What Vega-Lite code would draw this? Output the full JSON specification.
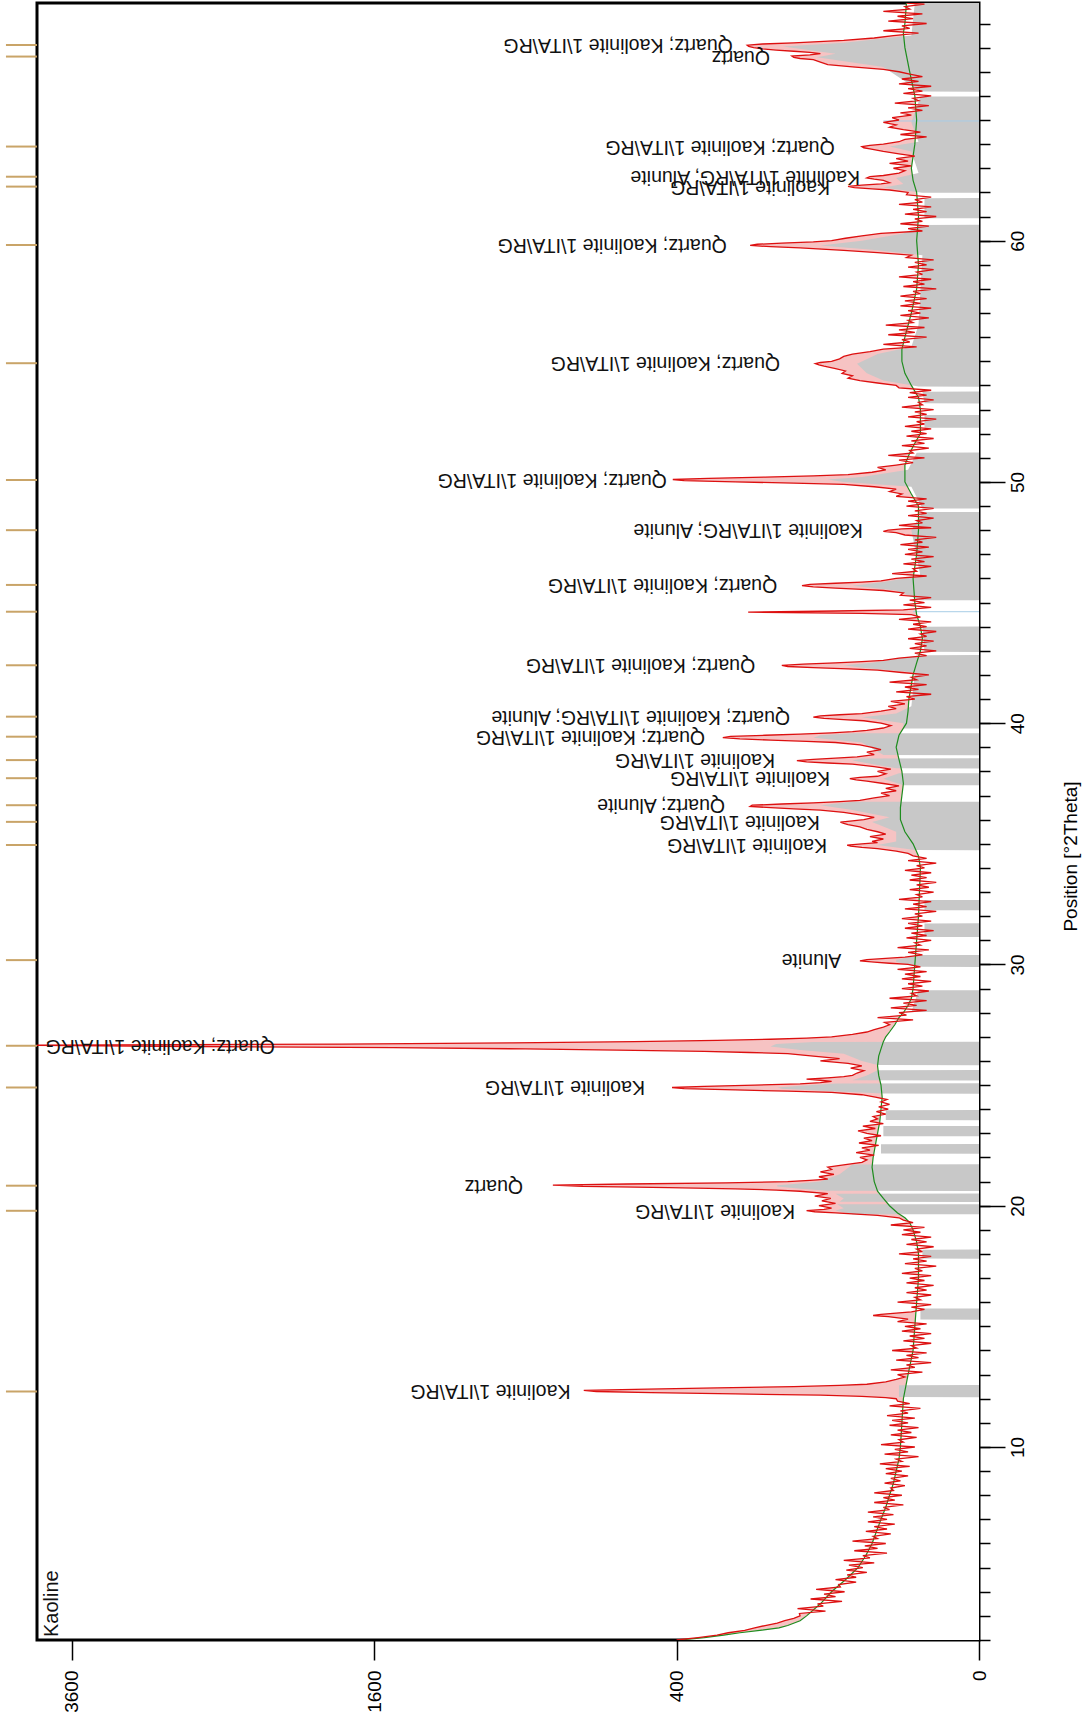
{
"$schema": "https://vega.github.io/schema/vega-lite/v6.json",
"width": 942, "height": 1637,
"autosize": {"type": "none"},
"padding": {"left": 37, "top": 3, "right": 108, "bottom": 84},
"background": "#ffffff",
"config": {"view": {"stroke": "#000000", "strokeWidth": 3}, "font": "Liberation Sans"},
"datasets": {
"p": [{"t":2,"c":400},{"t":2.1,"c":345},{"t":2.2,"c":300},{"t":2.3,"c":275},{"t":2.4,"c":240},{"t":2.5,"c":220},{"t":2.6,"c":200},{"t":2.7,"c":178},{"t":2.8,"c":165},{"t":2.9,"c":150},
{"t":3,"c":140},{"t":3.1,"c":141},{"t":3.2,"c":103},{"t":3.3,"c":144},{"t":3.4,"c":106},{"t":3.5,"c":114},{"t":3.6,"c":82},{"t":3.7,"c":124},{"t":3.8,"c":90},{"t":3.9,"c":105},
{"t":4,"c":79},{"t":4.1,"c":116},{"t":4.2,"c":84},{"t":4.3,"c":86},{"t":4.4,"c":66},{"t":4.5,"c":90},{"t":4.6,"c":66},{"t":4.7,"c":76},{"t":4.8,"c":55},{"t":4.9,"c":77},
{"t":5,"c":59},{"t":5.1,"c":74},{"t":5.2,"c":48},{"t":5.3,"c":80},{"t":5.4,"c":52},{"t":5.5,"c":59},{"t":5.6,"c":37},{"t":5.7,"c":68},{"t":5.8,"c":45},{"t":5.9,"c":57},
{"t":6,"c":38},{"t":6.1,"c":70},{"t":6.2,"c":45},{"t":6.3,"c":49},{"t":6.4,"c":34},{"t":6.5,"c":56},{"t":6.6,"c":37},{"t":6.7,"c":48},{"t":6.8,"c":31},{"t":6.9,"c":54},
{"t":7,"c":37},{"t":7.1,"c":49},{"t":7.2,"c":32},{"t":7.3,"c":54},{"t":7.4,"c":35},{"t":7.5,"c":40},{"t":7.6,"c":25},{"t":7.7,"c":48},{"t":7.8,"c":31},{"t":7.9,"c":40},
{"t":8,"c":26},{"t":8.1,"c":48},{"t":8.2,"c":32},{"t":8.3,"c":34},{"t":8.4,"c":24},{"t":8.5,"c":39},{"t":8.6,"c":27},{"t":8.7,"c":34},{"t":8.8,"c":22},{"t":8.9,"c":38},
{"t":9,"c":26},{"t":9.1,"c":38},{"t":9.2,"c":21},{"t":9.3,"c":43},{"t":9.4,"c":26},{"t":9.5,"c":30},{"t":9.6,"c":16},{"t":9.7,"c":39},{"t":9.8,"c":22},{"t":9.9,"c":31},
{"t":10,"c":18},{"t":10.1,"c":42},{"t":10.2,"c":25},{"t":10.3,"c":28},{"t":10.4,"c":17},{"t":10.5,"c":34},{"t":10.6,"c":20},{"t":10.7,"c":29},{"t":10.8,"c":16},{"t":10.9,"c":35},
{"t":11,"c":22},{"t":11.1,"c":33},{"t":11.2,"c":18},{"t":11.3,"c":37},{"t":11.4,"c":22},{"t":11.5,"c":27},{"t":11.6,"c":15},{"t":11.7,"c":35},{"t":11.8,"c":21},{"t":11.9,"c":29},
{"t":12,"c":30},{"t":12.05,"c":38},{"t":12.1,"c":60},{"t":12.15,"c":110},{"t":12.2,"c":260},{"t":12.25,"c":470},{"t":12.3,"c":640},{"t":12.35,"c":683},{"t":12.4,"c":480},{"t":12.45,"c":300},{"t":12.5,"c":150},{"t":12.55,"c":85},{"t":12.6,"c":55},{"t":12.7,"c":38},{"t":12.8,"c":30},{"t":12.9,"c":24},
{"t":13,"c":29},{"t":13.1,"c":14},{"t":13.2,"c":34},{"t":13.3,"c":18},{"t":13.4,"c":23},{"t":13.5,"c":10},{"t":13.6,"c":30},{"t":13.7,"c":16},{"t":13.8,"c":23},{"t":13.9,"c":12},
{"t":14,"c":33},{"t":14.1,"c":17},{"t":14.2,"c":20},{"t":14.3,"c":10},{"t":14.4,"c":25},{"t":14.5,"c":13},{"t":14.6,"c":21},{"t":14.7,"c":10},{"t":14.8,"c":26},{"t":14.9,"c":15},
{"t":15,"c":24},{"t":15.1,"c":12},{"t":15.2,"c":29},{"t":15.3,"c":22},{"t":15.4,"c":36},{"t":15.45,"c":49},{"t":15.5,"c":42},{"t":15.55,"c":30},{"t":15.6,"c":20},{"t":15.7,"c":13},{"t":15.8,"c":20},{"t":15.9,"c":10},
{"t":16,"c":29},{"t":16.1,"c":15},{"t":16.2,"c":18},{"t":16.3,"c":10},{"t":16.4,"c":23},{"t":16.5,"c":12},{"t":16.6,"c":18},{"t":16.7,"c":9},{"t":16.8,"c":23},{"t":16.9,"c":13},
{"t":17,"c":21},{"t":17.1,"c":10},{"t":17.2,"c":26},{"t":17.3,"c":14},{"t":17.4,"c":18},{"t":17.5,"c":8},{"t":17.6,"c":24},{"t":17.7,"c":12},{"t":17.8,"c":19},{"t":17.9,"c":10},
{"t":18,"c":28},{"t":18.1,"c":14},{"t":18.2,"c":17},{"t":18.3,"c":9},{"t":18.4,"c":23},{"t":18.5,"c":12},{"t":18.6,"c":20},{"t":18.7,"c":10},{"t":18.8,"c":26},{"t":18.9,"c":15},
{"t":19,"c":25},{"t":19.1,"c":13},{"t":19.2,"c":34},{"t":19.3,"c":19},{"t":19.4,"c":25},{"t":19.5,"c":28},{"t":19.6,"c":45},{"t":19.7,"c":90},{"t":19.75,"c":118},{"t":19.8,"c":130},{"t":19.85,"c":105},{"t":19.9,"c":95},
{"t":20,"c":112},{"t":20.1,"c":90},{"t":20.2,"c":108},{"t":20.3,"c":96},{"t":20.4,"c":118},{"t":20.5,"c":100},{"t":20.6,"c":140},{"t":20.65,"c":180},{"t":20.7,"c":260},{"t":20.75,"c":420},{"t":20.8,"c":686},{"t":20.85,"c":794},{"t":20.9,"c":540},{"t":20.95,"c":280},
{"t":21,"c":160},{"t":21.05,"c":125},{"t":21.1,"c":100},{"t":21.2,"c":112},{"t":21.3,"c":92},{"t":21.4,"c":110},{"t":21.5,"c":95},{"t":21.6,"c":100},{"t":21.7,"c":78},{"t":21.8,"c":60},{"t":21.9,"c":55},
{"t":22,"c":62},{"t":22.1,"c":48},{"t":22.2,"c":66},{"t":22.3,"c":52},{"t":22.4,"c":60},{"t":22.5,"c":44},{"t":22.6,"c":63},{"t":22.7,"c":50},{"t":22.8,"c":58},{"t":22.9,"c":42},
{"t":23,"c":55},{"t":23.1,"c":64},{"t":23.2,"c":47},{"t":23.3,"c":59},{"t":23.4,"c":40},{"t":23.5,"c":52},{"t":23.6,"c":45},{"t":23.7,"c":49},{"t":23.8,"c":38},{"t":23.9,"c":46},
{"t":24,"c":36},{"t":24.1,"c":44},{"t":24.2,"c":35},{"t":24.3,"c":42},{"t":24.4,"c":37},{"t":24.5,"c":47},{"t":24.6,"c":60},{"t":24.7,"c":95},{"t":24.75,"c":160},{"t":24.8,"c":260},{"t":24.85,"c":380},{"t":24.9,"c":412},{"t":24.95,"c":330},
{"t":25,"c":220},{"t":25.05,"c":140},{"t":25.1,"c":110},{"t":25.15,"c":95},{"t":25.2,"c":110},{"t":25.25,"c":130},{"t":25.3,"c":100},{"t":25.35,"c":80},{"t":25.4,"c":70},{"t":25.5,"c":65},{"t":25.6,"c":58},{"t":25.7,"c":72},{"t":25.8,"c":60},{"t":25.9,"c":75},
{"t":26,"c":110},{"t":26.1,"c":85},{"t":26.2,"c":120},{"t":26.3,"c":160},{"t":26.35,"c":230},{"t":26.4,"c":330},{"t":26.45,"c":573},{"t":26.5,"c":900},{"t":26.55,"c":1500},{"t":26.6,"c":2700},{"t":26.65,"c":3950},{"t":26.7,"c":1775},{"t":26.75,"c":950},{"t":26.8,"c":520},{"t":26.85,"c":300},{"t":26.9,"c":190},{"t":26.95,"c":130},
{"t":27,"c":95},{"t":27.1,"c":70},{"t":27.2,"c":55},{"t":27.3,"c":48},{"t":27.4,"c":40},{"t":27.5,"c":35},{"t":27.6,"c":39},{"t":27.7,"c":19},{"t":27.8,"c":45},{"t":27.9,"c":23},
{"t":28,"c":28},{"t":28.1,"c":12},{"t":28.2,"c":34},{"t":28.3,"c":17},{"t":28.4,"c":25},{"t":28.5,"c":12},{"t":28.6,"c":35},{"t":28.7,"c":17},{"t":28.8,"c":20},{"t":28.9,"c":11},
{"t":29,"c":26},{"t":29.1,"c":14},{"t":29.2,"c":22},{"t":29.3,"c":10},{"t":29.4,"c":26},{"t":29.5,"c":15},{"t":29.6,"c":24},{"t":29.7,"c":12},{"t":29.8,"c":29},{"t":29.9,"c":15},
{"t":30,"c":22},{"t":30.05,"c":35},{"t":30.1,"c":48},{"t":30.15,"c":62},{"t":30.2,"c":55},{"t":30.25,"c":38},{"t":30.3,"c":24},{"t":30.4,"c":14},{"t":30.5,"c":22},{"t":30.6,"c":11},{"t":30.7,"c":29},{"t":30.8,"c":15},{"t":30.9,"c":18},
{"t":31,"c":10},{"t":31.1,"c":23},{"t":31.2,"c":12},{"t":31.3,"c":20},{"t":31.4,"c":9},{"t":31.5,"c":24},{"t":31.6,"c":14},{"t":31.7,"c":22},{"t":31.8,"c":10},{"t":31.9,"c":26},
{"t":32,"c":14},{"t":32.1,"c":18},{"t":32.2,"c":8},{"t":32.3,"c":24},{"t":32.4,"c":12},{"t":32.5,"c":19},{"t":32.6,"c":10},{"t":32.7,"c":28},{"t":32.8,"c":14},{"t":32.9,"c":17},
{"t":33,"c":9},{"t":33.1,"c":21},{"t":33.2,"c":11},{"t":33.3,"c":17},{"t":33.4,"c":8},{"t":33.5,"c":21},{"t":33.6,"c":12},{"t":33.7,"c":20},{"t":33.8,"c":10},{"t":33.9,"c":24},
{"t":34,"c":13},{"t":34.1,"c":17},{"t":34.2,"c":8},{"t":34.3,"c":22},{"t":34.4,"c":12},{"t":34.5,"c":19},{"t":34.6,"c":22},{"t":34.7,"c":30},{"t":34.8,"c":45},{"t":34.85,"c":60},{"t":34.9,"c":72},{"t":34.95,"c":76},
{"t":35,"c":60},{"t":35.05,"c":45},{"t":35.1,"c":50},{"t":35.2,"c":40},{"t":35.3,"c":52},{"t":35.4,"c":38},{"t":35.5,"c":45},{"t":35.6,"c":55},{"t":35.7,"c":62},{"t":35.8,"c":75},{"t":35.85,"c":80},{"t":35.9,"c":84},{"t":35.95,"c":70},
{"t":36,"c":58},{"t":36.1,"c":48},{"t":36.2,"c":62},{"t":36.3,"c":80},{"t":36.4,"c":110},{"t":36.45,"c":150},{"t":36.5,"c":190},{"t":36.55,"c":229},{"t":36.6,"c":225},{"t":36.65,"c":170},{"t":36.7,"c":120},{"t":36.75,"c":85},{"t":36.8,"c":62},{"t":36.9,"c":48},
{"t":37,"c":35},{"t":37.1,"c":42},{"t":37.2,"c":30},{"t":37.3,"c":38},{"t":37.4,"c":28},{"t":37.5,"c":40},{"t":37.6,"c":55},{"t":37.65,"c":66},{"t":37.7,"c":73},{"t":37.75,"c":62},{"t":37.8,"c":45},{"t":37.9,"c":38},
{"t":38,"c":45},{"t":38.1,"c":34},{"t":38.2,"c":48},{"t":38.3,"c":70},{"t":38.35,"c":100},{"t":38.4,"c":130},{"t":38.45,"c":145},{"t":38.5,"c":120},{"t":38.55,"c":90},{"t":38.6,"c":65},{"t":38.7,"c":48},{"t":38.8,"c":55},{"t":38.9,"c":42},
{"t":39,"c":50},{"t":39.1,"c":62},{"t":39.2,"c":90},{"t":39.25,"c":130},{"t":39.3,"c":190},{"t":39.35,"c":250},{"t":39.4,"c":287},{"t":39.45,"c":270},{"t":39.5,"c":200},{"t":39.55,"c":140},{"t":39.6,"c":95},{"t":39.65,"c":70},{"t":39.7,"c":55},{"t":39.8,"c":40},{"t":39.9,"c":34},
{"t":40,"c":42},{"t":40.1,"c":58},{"t":40.15,"c":80},{"t":40.2,"c":105},{"t":40.25,"c":120},{"t":40.3,"c":110},{"t":40.35,"c":85},{"t":40.4,"c":60},{"t":40.5,"c":42},{"t":40.6,"c":30},{"t":40.7,"c":36},{"t":40.8,"c":24},{"t":40.9,"c":34},
{"t":41,"c":18},{"t":41.1,"c":23},{"t":41.2,"c":10},{"t":41.3,"c":30},{"t":41.4,"c":16},{"t":41.5,"c":24},{"t":41.6,"c":12},{"t":41.7,"c":35},{"t":41.8,"c":17},{"t":41.9,"c":20},
{"t":42,"c":11},{"t":42.1,"c":26},{"t":42.2,"c":45},{"t":42.25,"c":75},{"t":42.3,"c":120},{"t":42.35,"c":160},{"t":42.4,"c":170},{"t":42.45,"c":135},{"t":42.5,"c":90},{"t":42.55,"c":60},{"t":42.6,"c":40},{"t":42.7,"c":28},{"t":42.8,"c":12},{"t":42.9,"c":18},
{"t":43,"c":8},{"t":43.1,"c":21},{"t":43.2,"c":12},{"t":43.3,"c":18},{"t":43.4,"c":9},{"t":43.5,"c":22},{"t":43.6,"c":12},{"t":43.7,"c":15},{"t":43.8,"c":8},{"t":43.9,"c":22},
{"t":44,"c":12},{"t":44.1,"c":19},{"t":44.2,"c":10},{"t":44.3,"c":28},{"t":44.4,"c":15},{"t":44.5,"c":20},{"t":44.55,"c":60},{"t":44.6,"c":233},{"t":44.65,"c":90},{"t":44.7,"c":25},{"t":44.8,"c":10},{"t":44.9,"c":25},
{"t":45,"c":13},{"t":45.1,"c":21},{"t":45.2,"c":10},{"t":45.3,"c":27},{"t":45.4,"c":25},{"t":45.5,"c":40},{"t":45.55,"c":60},{"t":45.6,"c":90},{"t":45.65,"c":120},{"t":45.7,"c":137},{"t":45.75,"c":125},{"t":45.8,"c":90},{"t":45.85,"c":60},{"t":45.9,"c":42},
{"t":46,"c":30},{"t":46.1,"c":12},{"t":46.2,"c":33},{"t":46.3,"c":17},{"t":46.4,"c":19},{"t":46.5,"c":10},{"t":46.6,"c":25},{"t":46.7,"c":13},{"t":46.8,"c":20},{"t":46.9,"c":9},
{"t":47,"c":24},{"t":47.1,"c":14},{"t":47.2,"c":22},{"t":47.3,"c":11},{"t":47.4,"c":27},{"t":47.5,"c":14},{"t":47.6,"c":18},{"t":47.7,"c":8},{"t":47.8,"c":24},{"t":47.9,"c":30},{"t":47.95,"c":40},
{"t":48,"c":36},{"t":48.05,"c":26},{"t":48.1,"c":10},{"t":48.2,"c":28},{"t":48.3,"c":14},{"t":48.4,"c":17},{"t":48.5,"c":9},{"t":48.6,"c":22},{"t":48.7,"c":12},{"t":48.8,"c":18},{"t":48.9,"c":9},
{"t":49,"c":23},{"t":49.1,"c":13},{"t":49.2,"c":22},{"t":49.3,"c":12},{"t":49.4,"c":30},{"t":49.5,"c":26},{"t":49.6,"c":35},{"t":49.7,"c":30},{"t":49.8,"c":48},{"t":49.9,"c":80},{"t":49.95,"c":150},
{"t":50,"c":260},{"t":50.05,"c":380},{"t":50.1,"c":410},{"t":50.15,"c":320},{"t":50.2,"c":200},{"t":50.25,"c":120},{"t":50.3,"c":75},{"t":50.4,"c":50},{"t":50.5,"c":38},{"t":50.6,"c":45},{"t":50.7,"c":30},{"t":50.8,"c":19},{"t":50.9,"c":28},
{"t":51,"c":13},{"t":51.1,"c":36},{"t":51.2,"c":19},{"t":51.3,"c":21},{"t":51.4,"c":11},{"t":51.5,"c":26},{"t":51.6,"c":13},{"t":51.7,"c":20},{"t":51.8,"c":9},{"t":51.9,"c":23},
{"t":52,"c":12},{"t":52.1,"c":20},{"t":52.2,"c":10},{"t":52.3,"c":24},{"t":52.4,"c":13},{"t":52.5,"c":17},{"t":52.6,"c":8},{"t":52.7,"c":22},{"t":52.8,"c":12},{"t":52.9,"c":18},
{"t":53,"c":9},{"t":53.1,"c":26},{"t":53.2,"c":14},{"t":53.3,"c":16},{"t":53.4,"c":9},{"t":53.5,"c":22},{"t":53.6,"c":12},{"t":53.7,"c":21},{"t":53.8,"c":10},{"t":53.9,"c":28},
{"t":54,"c":30},{"t":54.1,"c":45},{"t":54.2,"c":62},{"t":54.3,"c":75},{"t":54.4,"c":70},{"t":54.5,"c":82},{"t":54.6,"c":78},{"t":54.7,"c":90},{"t":54.8,"c":105},{"t":54.85,"c":112},{"t":54.9,"c":117},{"t":54.95,"c":110},
{"t":55,"c":95},{"t":55.1,"c":85},{"t":55.2,"c":80},{"t":55.3,"c":70},{"t":55.4,"c":52},{"t":55.5,"c":40},{"t":55.6,"c":17},{"t":55.7,"c":40},{"t":55.8,"c":21},{"t":55.9,"c":26},
{"t":56,"c":12},{"t":56.1,"c":36},{"t":56.2,"c":18},{"t":56.3,"c":28},{"t":56.4,"c":13},{"t":56.5,"c":38},{"t":56.6,"c":19},{"t":56.7,"c":22},{"t":56.8,"c":11},{"t":56.9,"c":27},
{"t":57,"c":15},{"t":57.1,"c":22},{"t":57.2,"c":10},{"t":57.3,"c":27},{"t":57.4,"c":15},{"t":57.5,"c":24},{"t":57.6,"c":12},{"t":57.7,"c":27},{"t":57.8,"c":15},{"t":57.9,"c":19},
{"t":58,"c":8},{"t":58.1,"c":25},{"t":58.2,"c":13},{"t":58.3,"c":19},{"t":58.4,"c":10},{"t":58.5,"c":28},{"t":58.6,"c":14},{"t":58.7,"c":17},{"t":58.8,"c":9},{"t":58.9,"c":22},
{"t":59,"c":12},{"t":59.1,"c":18},{"t":59.2,"c":9},{"t":59.3,"c":23},{"t":59.4,"c":20},{"t":59.5,"c":45},{"t":59.6,"c":80},{"t":59.7,"c":140},{"t":59.75,"c":190},{"t":59.8,"c":229},{"t":59.85,"c":215},{"t":59.9,"c":170},{"t":59.95,"c":120},
{"t":60,"c":95},{"t":60.1,"c":78},{"t":60.2,"c":60},{"t":60.3,"c":42},{"t":60.4,"c":14},{"t":60.5,"c":22},{"t":60.6,"c":11},{"t":60.7,"c":27},{"t":60.8,"c":14},{"t":60.9,"c":18},
{"t":61,"c":8},{"t":61.1,"c":24},{"t":61.2,"c":12},{"t":61.3,"c":19},{"t":61.4,"c":10},{"t":61.5,"c":28},{"t":61.6,"c":14},{"t":61.7,"c":18},{"t":61.8,"c":10},{"t":61.9,"c":23},
{"t":62,"c":22},{"t":62.1,"c":35},{"t":62.15,"c":50},{"t":62.2,"c":68},{"t":62.25,"c":75},{"t":62.3,"c":60},{"t":62.35,"c":42},{"t":62.4,"c":35},{"t":62.5,"c":40},{"t":62.55,"c":48},{"t":62.6,"c":55},{"t":62.65,"c":52},{"t":62.7,"c":40},{"t":62.8,"c":28},{"t":62.9,"c":24},
{"t":63,"c":32},{"t":63.1,"c":20},{"t":63.2,"c":35},{"t":63.3,"c":22},{"t":63.4,"c":30},{"t":63.5,"c":18},{"t":63.6,"c":28},{"t":63.7,"c":40},{"t":63.8,"c":52},{"t":63.85,"c":58},{"t":63.9,"c":60},{"t":63.95,"c":52},
{"t":64,"c":40},{"t":64.1,"c":28},{"t":64.2,"c":24},{"t":64.3,"c":12},{"t":64.4,"c":27},{"t":64.5,"c":15},{"t":64.6,"c":25},{"t":64.7,"c":35},{"t":64.8,"c":30},{"t":64.9,"c":40},
{"t":65,"c":28},{"t":65.1,"c":33},{"t":65.2,"c":20},{"t":65.3,"c":27},{"t":65.4,"c":14},{"t":65.5,"c":22},{"t":65.6,"c":11},{"t":65.7,"c":31},{"t":65.8,"c":16},{"t":65.9,"c":19},
{"t":66,"c":10},{"t":66.1,"c":25},{"t":66.2,"c":14},{"t":66.3,"c":22},{"t":66.4,"c":10},{"t":66.5,"c":28},{"t":66.6,"c":16},{"t":66.7,"c":26},{"t":66.8,"c":14},{"t":66.9,"c":21},
{"t":67,"c":28},{"t":67.1,"c":40},{"t":67.2,"c":70},{"t":67.3,"c":100},{"t":67.4,"c":110},{"t":67.5,"c":120},{"t":67.55,"c":140},{"t":67.6,"c":150},{"t":67.65,"c":153},{"t":67.7,"c":125},{"t":67.75,"c":110},{"t":67.8,"c":125},{"t":67.85,"c":150},{"t":67.9,"c":180},{"t":67.95,"c":205},
{"t":68,"c":222},{"t":68.05,"c":232},{"t":68.1,"c":235},{"t":68.15,"c":205},{"t":68.2,"c":150},{"t":68.3,"c":80},{"t":68.4,"c":48},{"t":68.5,"c":32},{"t":68.6,"c":16},{"t":68.7,"c":40},{"t":68.8,"c":21},{"t":68.9,"c":26},
{"t":69,"c":12},{"t":69.1,"c":36},{"t":69.2,"c":19},{"t":69.3,"c":29},{"t":69.4,"c":14},{"t":69.5,"c":40},{"t":69.6,"c":21},{"t":69.7,"c":24},{"t":69.8,"c":13},{"t":69.85,"c":23}],
"bk": [{"t":2,"c":390},{"t":2.1,"c":330},{"t":2.2,"c":285},{"t":2.3,"c":250},{"t":2.4,"c":210},{"t":2.5,"c":175},{"t":2.6,"c":160},{"t":2.8,"c":140},{"t":3,"c":130},{"t":3.5,"c":110},{"t":4,"c":95},{"t":4.5,"c":78},{"t":5,"c":64},{"t":5.5,"c":56},{"t":6,"c":50},{"t":6.5,"c":46},{"t":7,"c":42},{"t":7.5,"c":38},{"t":8,"c":35},{"t":8.5,"c":32},{"t":9,"c":30},{"t":9.5,"c":28},{"t":10,"c":27},{"t":11,"c":26},{"t":12,"c":25},{"t":13,"c":22},{"t":14,"c":19},{"t":15,"c":18},{"t":16,"c":17},{"t":17,"c":16},{"t":18,"c":16},{"t":18.5,"c":17},{"t":19,"c":19},{"t":19.3,"c":21},{"t":19.5,"c":24},{"t":19.7,"c":29},{"t":20,"c":35},{"t":20.3,"c":40},{"t":20.6,"c":45},{"t":21,"c":48},{"t":21.6,"c":50},{"t":22,"c":49},{"t":22.5,"c":47},{"t":23,"c":45},{"t":23.5,"c":43},{"t":24,"c":42},{"t":24.5,"c":41},{"t":25,"c":42},{"t":25.4,"c":44},{"t":25.8,"c":45},{"t":26.2,"c":44},{"t":26.5,"c":42},{"t":26.8,"c":40},{"t":27,"c":38},{"t":27.2,"c":35},{"t":27.5,"c":31},{"t":27.8,"c":28},{"t":28,"c":25},{"t":28.3,"c":22},{"t":28.6,"c":20},{"t":29,"c":19},{"t":30,"c":18},{"t":31,"c":17},{"t":32,"c":16},{"t":33,"c":15.5},{"t":34,"c":15},{"t":34.5,"c":16},{"t":35,"c":19},{"t":35.5,"c":24},{"t":36,"c":27},{"t":36.5,"c":27},{"t":37,"c":26},{"t":37.5,"c":25},{"t":38,"c":26},{"t":38.5,"c":28},{"t":39,"c":30},{"t":39.5,"c":28},{"t":40,"c":23},{"t":40.5,"c":22},{"t":41,"c":21.5},{"t":42,"c":19},{"t":42.5,"c":17},{"t":43,"c":15},{"t":43.5,"c":14},{"t":44,"c":15},{"t":44.5,"c":17},{"t":45,"c":18},{"t":46,"c":19},{"t":47,"c":17},{"t":48,"c":16},{"t":49,"c":16},{"t":49.5,"c":20},{"t":50,"c":24},{"t":50.7,"c":24},{"t":51.2,"c":21},{"t":51.6,"c":18},{"t":52,"c":15},{"t":53,"c":15},{"t":53.5,"c":16},{"t":54,"c":20},{"t":54.5,"c":24},{"t":55,"c":26},{"t":55.5,"c":26},{"t":56,"c":24},{"t":57,"c":20},{"t":58,"c":17},{"t":59,"c":16},{"t":60,"c":17},{"t":61,"c":16},{"t":62,"c":17},{"t":62.5,"c":19},{"t":63,"c":20},{"t":64,"c":18},{"t":65,"c":17},{"t":66,"c":18},{"t":67,"c":21},{"t":68,"c":24},{"t":68.6,"c":25},{"t":69,"c":24},{"t":69.85,"c":23}],
"gr": [{"t":2,"c":0},{"t":12.065,"c":0},{"t":12.07,"c":28},{"t":12.56,"c":28},{"t":12.565,"c":0},
{"t":15.275,"c":0},{"t":15.28,"c":15},{"t":15.74,"c":15},{"t":15.745,"c":0},
{"t":17.805,"c":0},{"t":17.81,"c":14},{"t":18.18,"c":14},{"t":18.185,"c":0},
{"t":19.645,"c":0},{"t":19.65,"c":70},{"t":19.8,"c":90},{"t":19.9,"c":80},{"t":20.06,"c":88},{"t":20.065,"c":0},
{"t":20.155,"c":0},{"t":20.16,"c":85},{"t":20.3,"c":80},{"t":20.5,"c":90},{"t":20.505,"c":0},
{"t":20.615,"c":0},{"t":20.62,"c":100},{"t":20.7,"c":140},{"t":20.8,"c":178},{"t":20.85,"c":178},{"t":20.9,"c":150},{"t":21,"c":110},{"t":21.3,"c":85},{"t":21.71,"c":70},{"t":21.715,"c":0},
{"t":22.155,"c":0},{"t":22.16,"c":42},{"t":22.55,"c":42},{"t":22.555,"c":0},
{"t":22.875,"c":0},{"t":22.88,"c":40},{"t":23.3,"c":40},{"t":23.305,"c":0},
{"t":23.545,"c":0},{"t":23.55,"c":38},{"t":23.96,"c":38},{"t":23.965,"c":0},
{"t":24.645,"c":0},{"t":24.65,"c":40},{"t":24.75,"c":100},{"t":24.85,"c":170},{"t":24.9,"c":178},{"t":24.95,"c":150},{"t":25.07,"c":90},{"t":25.075,"c":0},
{"t":25.195,"c":0},{"t":25.2,"c":70},{"t":25.4,"c":55},{"t":25.62,"c":45},{"t":25.625,"c":0},
{"t":25.825,"c":0},{"t":25.83,"c":45},{"t":26,"c":60},{"t":26.3,"c":80},{"t":26.45,"c":140},{"t":26.6,"c":190},{"t":26.7,"c":180},{"t":26.79,"c":120},{"t":26.795,"c":0},
{"t":28.025,"c":0},{"t":28.03,"c":20},{"t":28.93,"c":16},{"t":28.935,"c":0},
{"t":29.895,"c":0},{"t":29.9,"c":15},{"t":30.1,"c":30},{"t":30.2,"c":30},{"t":30.39,"c":15},{"t":30.395,"c":0},
{"t":31.135,"c":0},{"t":31.14,"c":13},{"t":31.7,"c":13},{"t":31.705,"c":0},
{"t":32.245,"c":0},{"t":32.25,"c":13},{"t":32.67,"c":13},{"t":32.675,"c":0},
{"t":34.735,"c":0},{"t":34.74,"c":18},{"t":34.95,"c":45},{"t":35.1,"c":30},{"t":35.5,"c":30},{"t":35.9,"c":50},{"t":36.1,"c":35},{"t":36.4,"c":70},{"t":36.6,"c":110},{"t":36.74,"c":70},{"t":36.745,"c":0},
{"t":37.425,"c":0},{"t":37.43,"c":25},{"t":37.7,"c":40},{"t":37.92,"c":28},{"t":37.925,"c":0},
{"t":38.125,"c":0},{"t":38.13,"c":30},{"t":38.45,"c":70},{"t":38.54,"c":60},{"t":38.545,"c":0},
{"t":38.675,"c":0},{"t":38.68,"c":40},{"t":39.2,"c":60},{"t":39.4,"c":120},{"t":39.5,"c":110},{"t":39.58,"c":70},{"t":39.585,"c":0},
{"t":39.775,"c":0},{"t":39.78,"c":25},{"t":40,"c":25},{"t":40.25,"c":60},{"t":40.4,"c":30},{"t":40.7,"c":20},{"t":42.1,"c":18},{"t":42.3,"c":60},{"t":42.4,"c":80},{"t":42.5,"c":50},{"t":42.82,"c":15},{"t":42.825,"c":0},
{"t":42.955,"c":0},{"t":42.96,"c":13},{"t":44,"c":14},{"t":44.005,"c":0},
{"t":45.095,"c":0},{"t":45.1,"c":15},{"t":45.5,"c":30},{"t":45.7,"c":70},{"t":45.85,"c":40},{"t":46.1,"c":15},{"t":48,"c":20},{"t":48.75,"c":14},{"t":48.755,"c":0},
{"t":48.895,"c":0},{"t":48.9,"c":14},{"t":49.8,"c":20},{"t":50,"c":80},{"t":50.1,"c":100},{"t":50.2,"c":60},{"t":50.5,"c":22},{"t":51.21,"c":17},{"t":51.215,"c":0},
{"t":52.245,"c":0},{"t":52.25,"c":13},{"t":52.77,"c":13},{"t":52.775,"c":0},
{"t":53.255,"c":0},{"t":53.26,"c":13},{"t":53.74,"c":14},{"t":53.745,"c":0},
{"t":53.945,"c":0},{"t":53.95,"c":16},{"t":54.2,"c":40},{"t":54.5,"c":55},{"t":54.9,"c":65},{"t":55.3,"c":45},{"t":55.6,"c":20},{"t":56.5,"c":16},{"t":59.4,"c":14},{"t":59.6,"c":45},{"t":59.8,"c":110},{"t":60,"c":60},{"t":60.3,"c":25},{"t":60.65,"c":14},{"t":60.655,"c":0},
{"t":60.925,"c":0},{"t":60.93,"c":13},{"t":61.76,"c":13},{"t":61.765,"c":0},
{"t":61.985,"c":0},{"t":61.99,"c":14},{"t":62.2,"c":40},{"t":62.35,"c":25},{"t":62.6,"c":30},{"t":62.8,"c":16},{"t":63.7,"c":20},{"t":63.9,"c":35},{"t":64.1,"c":16},{"t":64.9,"c":20},{"t":65.97,"c":15},{"t":65.975,"c":0},
{"t":66.175,"c":0},{"t":66.18,"c":15},{"t":67.2,"c":40},{"t":67.6,"c":115},{"t":67.75,"c":90},{"t":68.05,"c":168},{"t":68.2,"c":80},{"t":68.5,"c":20},{"t":69.85,"c":18}],
"pk": [{"t":12.3,"c":730,"txt":"Kaolinite 1\\ITA\\RG"},{"t":19.79,"c":148,"txt":"Kaolinite 1\\ITA\\RG"},{"t":20.83,"c":909,"txt":"Quartz"},{"t":24.9,"c":488,"txt":"Kaolinite 1\\ITA\\RG"},{"t":26.63,"c":2168,"txt":"Quartz; Kaolinite 1\\ITA\\RG"},{"t":30.18,"c":83,"txt":"Alunite"},{"t":34.95,"c":101,"txt":"Kaolinite 1\\ITA\\RG"},{"t":35.91,"c":111,"txt":"Kaolinite 1\\ITA\\RG"},{"t":36.6,"c":282,"txt":"Quartz; Alunite"},{"t":37.72,"c":97,"txt":"Kaolinite 1\\ITA\\RG"},{"t":38.47,"c":182,"txt":"Kaolinite 1\\ITA\\RG"},{"t":39.44,"c":328,"txt":"Quartz; Kaolinite 1\\ITA\\RG"},{"t":40.27,"c":156,"txt":"Quartz; Kaolinite 1\\ITA\\RG; Alunite"},{"t":42.4,"c":219,"txt":"Quartz; Kaolinite 1\\ITA\\RG"},{"t":44.62,"c":233,"txt":""},{"t":45.73,"c":178,"txt":"Quartz; Kaolinite 1\\ITA\\RG"},{"t":48,"c":59,"txt":"Kaolinite 1\\ITA\\RG; Alunite"},{"t":50.08,"c":426,"txt":"Quartz; Kaolinite 1\\ITA\\RG"},{"t":54.92,"c":173,"txt":"Quartz; Kaolinite 1\\ITA\\RG"},{"t":59.82,"c":278,"txt":"Quartz; Kaolinite 1\\ITA\\RG"},{"t":62.24,"c":97,"txt":"Kaolinite 1\\ITA\\RG"},{"t":62.65,"c":62,"txt":"Kaolinite 1\\ITA\\RG; Alunite"},{"t":63.9,"c":91,"txt":"Quartz; Kaolinite 1\\ITA\\RG"},{"t":67.63,"c":191,"txt":"Quartz"},{"t":68.11,"c":265,"txt":"Quartz; Kaolinite 1\\ITA\\RG"}],
"bl": [{"t":44.62,"c":19},{"t":64.96,"c":40}],
"nm": [{"t":2,"c":3880,"txt":"Kaoline"}]
},
"encoding": {
"y": {"field":"t","type":"quantitative","scale":{"domain":[2,69.85],"nice":false,"zero":false},"axis":null},
"x": {"field":"c","type":"quantitative","scale":{"type":"sqrt","domain":[0,3880],"nice":false,"zero":true,"reverse":true},
"axis":{"orient":"bottom","values":[0,400,1600,3600],"format":"d","tickSize":20,"tickWidth":1.5,"tickColor":"#000000","domain":false,"grid":false,"labelAngle":270,"labelAlign":"right","labelBaseline":"middle","labelPadding":10,"labelFontSize":19,"labelColor":"#000000","labelFont":"Liberation Sans","labelOverlap":false,"labelBound":false,"labelFlush":false,"title":null}}
},
"resolve": {"axis": {"y": "independent"}},
"layer": [
{"data":{"name":"p"},"mark":{"type":"area","orient":"horizontal","color":"#f6c3c3","clip":true},
 "encoding":{"x2":{"datum":0},
 "y":{"field":"t","type":"quantitative","scale":{"domain":[2,69.85],"nice":false,"zero":false},
 "axis":{"orient":"right","values":[10,20,30,40,50,60],"tickSize":26,"tickWidth":1.5,"tickColor":"#000000","domain":false,"grid":false,"labelAngle":270,"labelAlign":"center","labelBaseline":"top","labelPadding":3,"labelFontSize":19,"labelColor":"#000000","labelFont":"Liberation Sans","labelOverlap":false,"labelFlush":false,"labelBound":false,"title":"Position [°2Theta]","titleAngle":270,"titleFontSize":19,"titleFontWeight":"normal","titleColor":"#000000","titleFont":"Liberation Sans","titleX":82,"titleY":853,"titleAlign":"center","titleBaseline":"top"}}}},
{"data":{"name":"bk"},"mark":{"type":"area","orient":"horizontal","color":"#ffffff","clip":true},
 "encoding":{"x2":{"datum":0},
 "y":{"field":"t","type":"quantitative","scale":{"domain":[2,69.85],"nice":false,"zero":false},
 "axis":{"orient":"right","values":[2,3,4,5,6,7,8,9,10,11,12,13,14,15,16,17,18,19,20,21,22,23,24,25,26,27,28,29,30,31,32,33,34,35,36,37,38,39,40,41,42,43,44,45,46,47,48,49,50,51,52,53,54,55,56,57,58,59,60,61,62,63,64,65,66,67,68,69],"tickSize":11,"tickWidth":1.5,"tickColor":"#000000","domain":false,"grid":false,"labels":false,"title":null}}}},
{"data":{"name":"gr"},"mark":{"type":"area","orient":"horizontal","color":"#c8c8c8","clip":true},"encoding":{"x2":{"datum":0}}},
{"data":{"name":"bl"},"mark":{"type":"rule","color":"#a8cde6","strokeWidth":1},"encoding":{"x2":{"datum":0}}},
{"data":{"name":"bk"},"mark":{"type":"line","color":"#1e8c1e","strokeWidth":1.2,"clip":true},"encoding":{"order":{"field":"t","type":"quantitative"}}},
{"data":{"name":"p"},"mark":{"type":"line","color":"#dd1010","strokeWidth":1.3,"clip":true},"encoding":{"order":{"field":"t","type":"quantitative"}}},
{"data":{"name":"pk"},"mark":{"type":"rule","color":"#c9a468","strokeWidth":2},
 "encoding":{"x":{"datum":3880,"type":"quantitative","scale":{"type":"sqrt","domain":[0,3880],"nice":false,"zero":true,"reverse":true},
 "axis":{"orient":"bottom","values":[0,400,1600,3600],"format":"d","tickSize":20,"tickWidth":1.5,"tickColor":"#000000","domain":false,"grid":false,"labelAngle":270,"labelAlign":"right","labelBaseline":"middle","labelPadding":10,"labelFontSize":19,"labelColor":"#000000","labelFont":"Liberation Sans","labelOverlap":false,"labelBound":false,"labelFlush":false,"title":null}},
 "x2":{"datum":4140}}},
{"data":{"name":"pk"},"mark":{"type":"text","angle":180,"align":"left","baseline":"middle","fontSize":19.5,"font":"Liberation Sans","color":"#111111"},
 "encoding":{"text":{"field":"txt"}}},
{"data":{"name":"nm"},"mark":{"type":"text","angle":270,"align":"left","baseline":"top","dx":3,"dy":5,"fontSize":20,"font":"Liberation Sans","color":"#111111"},
 "encoding":{"text":{"field":"txt"}}}
]
}
